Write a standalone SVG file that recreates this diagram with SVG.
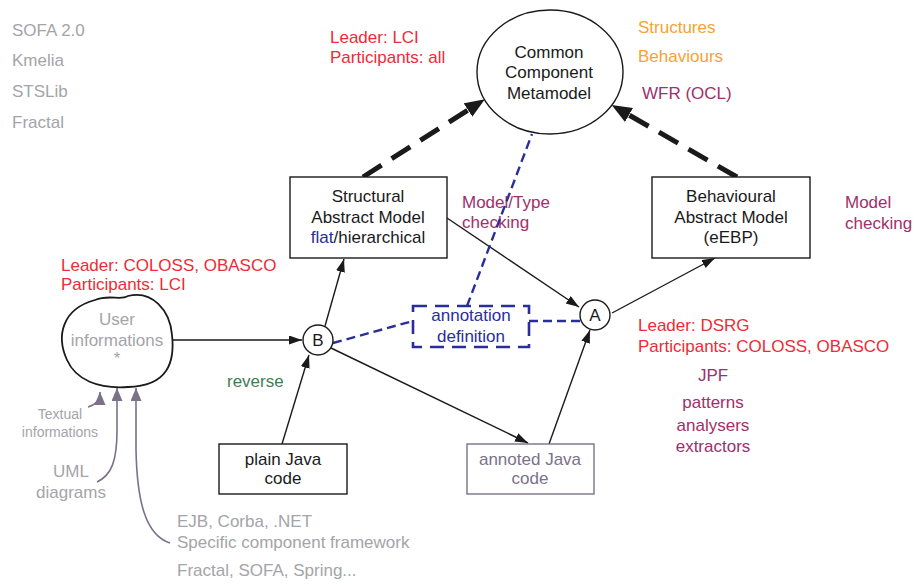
<svg xmlns="http://www.w3.org/2000/svg" width="916" height="584" viewBox="0 0 916 584">
<defs>
<style>
text{font-family:"Liberation Sans",Arial,sans-serif;font-size:17px}
.c{text-anchor:middle}
.k{fill:#1a1a1a}
.g{fill:#a4a4a9}
.r{fill:#ee2b36}
.o{fill:#f6a233}
.m{fill:#a12f6a}
.gr{fill:#3f7d56}
.b{fill:#2a2e9a}
.p{fill:#7b7189}
.box{fill:#fff;stroke:#1a1a1a;stroke-width:1.4}
.ln{fill:none;stroke:#1a1a1a;stroke-width:1.4}
.thick{fill:none;stroke:#1a1a1a;stroke-width:5;stroke-dasharray:22 12}
.bd{fill:none;stroke:#2a2e9a;stroke-width:2.4;stroke-dasharray:9 5}
.pa{fill:none;stroke:#7b7189;stroke-width:1.6}
</style>
<marker id="ah" markerUnits="userSpaceOnUse" markerWidth="14" markerHeight="10" refX="13" refY="4.5" orient="auto"><path d="M0,0 L13,4.5 L0,9 z" fill="#1a1a1a"/></marker>
<marker id="ahb" markerUnits="userSpaceOnUse" markerWidth="22" markerHeight="18" refX="0" refY="8" orient="auto"><path d="M0,0 L20,8 L0,16 z" fill="#1a1a1a"/></marker>
<marker id="ahp" markerUnits="userSpaceOnUse" markerWidth="14" markerHeight="12" refX="13" refY="5.5" orient="auto"><path d="M0,0 L13,5.5 L0,11 z" fill="#7b7189"/></marker>
</defs>
<rect width="916" height="584" fill="#fff"/>

<g id="labels">
<text class="g" x="12" y="36">SOFA 2.0</text>
<text class="g" x="12" y="66">Kmelia</text>
<text class="g" x="12" y="97">STSLib</text>
<text class="g" x="12" y="128">Fractal</text>
<text class="r" x="330" y="43">Leader: LCI</text>
<text class="r" x="330" y="63">Participants: all</text>
<text class="o" x="638" y="33">Structures</text>
<text class="o" x="638" y="62">Behaviours</text>
<text class="m" x="642" y="99">WFR (OCL)</text>
<text class="m" x="462" y="208">Model/Type</text>
<text class="m" x="462" y="228">checking</text>
<text class="m" x="845" y="208">Model</text>
<text class="m" x="845" y="229">checking</text>
<text class="r" x="61" y="271">Leader: COLOSS, OBASCO</text>
<text class="r" x="61" y="290">Participants: LCI</text>
<text class="gr" x="227" y="387">reverse</text>
<text class="r" x="638" y="331">Leader: DSRG</text>
<text class="r" x="638" y="352">Participants: COLOSS, OBASCO</text>
<text class="m c" x="713" y="381">JPF</text>
<text class="m c" x="713" y="408">patterns</text>
<text class="m c" x="713" y="431">analysers</text>
<text class="m c" x="713" y="452">extractors</text>
<text class="g c" x="60" y="419" style="font-size:14px">Textual</text>
<text class="g c" x="60" y="437" style="font-size:14px">informations</text>
<text class="g c" x="71" y="477">UML</text>
<text class="g c" x="71" y="498">diagrams</text>
<text class="g" x="177" y="527">EJB, Corba, .NET</text>
<text class="g" x="177" y="548">Specific component framework</text>
<text class="g" x="177" y="576">Fractal, SOFA, Spring...</text>
</g>

<g id="connectors">
<path class="thick" d="M363,177 L468,110" marker-end="url(#ahb)"/>
<path class="thick" d="M737,177 L629,115" marker-end="url(#ahb)"/>
<path class="ln" d="M173,340 L302,340" marker-end="url(#ah)"/>
<path class="ln" d="M325,326 L344,259" marker-end="url(#ah)"/>
<path class="ln" d="M282,444 L309,355" marker-end="url(#ah)"/>
<path class="ln" d="M331,348 L528,443" marker-end="url(#ah)"/>
<path class="ln" d="M549,444 L590,330" marker-end="url(#ah)"/>
<path class="ln" d="M447,218 L579,307" marker-end="url(#ah)"/>
<path class="ln" d="M612,313 L715,258" marker-end="url(#ah)"/>
<path class="bd" d="M333,343 L413,321"/>
<path class="bd" d="M529,321 L580,321"/>
<path class="bd" d="M467,306 L532,134"/>
<path class="pa" d="M88,407 C96,405 100,400 100,392" marker-end="url(#ahp)"/>
<path class="pa" d="M97,482 C112,475 117,460 117,430 L117,388" marker-end="url(#ahp)"/>
<path class="pa" d="M170,543 C145,535 137,500 136,450 L136,388" marker-end="url(#ahp)"/>
</g>

<g id="metamodel">
<ellipse cx="550" cy="72" rx="73" ry="62" fill="#fff" stroke="#1a1a1a" stroke-width="1.4"/>
<text class="k c" x="549" y="58">Common</text>
<text class="k c" x="549" y="78">Component</text>
<text class="k c" x="549" y="99">Metamodel</text>
</g>

<g id="structural">
<rect class="box" x="290" y="177" width="157" height="81"/>
<text class="k c" x="368" y="202">Structural</text>
<text class="k c" x="368" y="223">Abstract Model</text>
<text class="k c" x="368" y="243"><tspan class="b">flat</tspan>/hierarchical</text>
</g>

<g id="behavioural">
<rect class="box" x="652" y="177" width="158" height="81"/>
<text class="k c" x="731" y="202">Behavioural</text>
<text class="k c" x="731" y="223">Abstract Model</text>
<text class="k c" x="731" y="243">(eEBP)</text>
</g>

<g id="user">
<path d="M95,300 C110,294 120,301 128,296 C152,290 170,310 172,335 C175,362 168,386 128,387 C98,389 76,380 67,360 C56,336 62,309 95,300 Z" fill="#fff" stroke="#1a1a1a" stroke-width="1.8"/>
<text class="g c" x="117" y="325">User</text>
<text class="g c" x="117" y="346">informations</text>
<text class="g c" x="117" y="364">*</text>
</g>

<g id="nodeB">
<circle cx="318" cy="340" r="15" fill="#fff" stroke="#1a1a1a" stroke-width="1.4"/>
<text class="k c" x="318" y="346">B</text>
</g>

<g id="nodeA">
<circle cx="595" cy="315" r="15" fill="#fff" stroke="#1a1a1a" stroke-width="1.4"/>
<text class="k c" x="595" y="321">A</text>
</g>

<g id="annotation">
<rect x="413" y="306" width="116" height="41" fill="#fff" stroke="#2a2e9a" stroke-width="2.6" stroke-dasharray="14 8"/>
<text class="b c" x="471" y="321">annotation</text>
<text class="b c" x="471" y="342">definition</text>
</g>

<g id="plainJava">
<rect class="box" x="219" y="444" width="128" height="50"/>
<text class="k c" x="283" y="465">plain Java</text>
<text class="k c" x="283" y="484">code</text>
</g>

<g id="annotedJava">
<rect x="467" y="444" width="127" height="50" fill="#fff" stroke="#7b7189" stroke-width="1.4"/>
<text class="p c" x="530" y="465">annoted Java</text>
<text class="p c" x="530" y="484">code</text>
</g>
</svg>
